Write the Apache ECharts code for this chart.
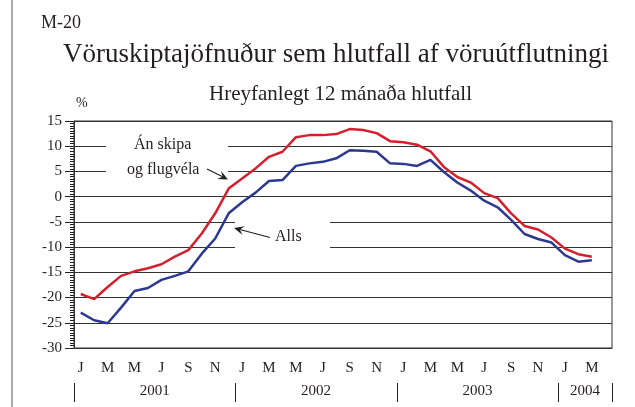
<!DOCTYPE html>
<html>
<head>
<meta charset="utf-8">
<script src="https://cdn.jsdelivr.net/npm/echarts@6/dist/echarts.min.js"></script>
<style>
  html, body { margin: 0; padding: 0; background: #fff; }
  #chart { width: 635px; height: 407px; }
</style>
</head>
<body>
<div id="chart"></div>
<script>
var monthLetters = ['J', 'F', 'M', 'A', 'M', 'J', 'J', 'A', 'S', 'O', 'N', 'D']
var years = ['2001', '2002', '2003', '2004']

// Án skipa og flugvéla (rauð)
var anSkipa = [-19.3, -20.3, -17.9, -15.7, -14.8, -14.2, -13.4, -11.9, -10.6, -7.3, -3.3, 1.6,
  3.6, 5.6, 7.9, 8.9, 11.8, 12.2, 12.2, 12.4, 13.4, 13.2, 12.6, 11.0,
  10.8, 10.3, 9.0, 5.9, 3.9, 2.8, 0.7, -0.3, -3.3, -5.8, -6.5, -8.1,
  -10.3, -11.4, -11.9]
// Alls (blá)
var alls = [-23.0, -24.5, -25.1, -22.0, -18.7, -18.1, -16.5, -15.7, -14.8, -11.3, -8.3, -3.3,
  -1.1, 0.8, 3.1, 3.3, 6.1, 6.6, 6.9, 7.6, 9.2, 9.1, 8.9, 6.6,
  6.5, 6.1, 7.3, 4.9, 2.8, 1.2, -0.8, -2.1, -4.6, -7.4, -8.4, -9.1,
  -11.6, -12.9, -12.6]

// jan 2001 - apr 2004
var categories = []
for (var y = 0; y < years.length; y++) {
  for (var m = 0; m < 12; m++) {
    if (categories.length < 40) categories.push(years[y] + '-' + (m + 1))
  }
}
var yearBounds = []
categories.forEach(function (c, i) {
  if (c.split('-')[1] === '1') yearBounds.push(i - 0.5)
})
yearBounds.push(categories.length - 0.5)
var yearMids = []
for (var k = 0; k < yearBounds.length - 1; k++) {
  yearMids.push((yearBounds[k] + yearBounds[k + 1]) / 2)
}

var font = 'Liberation Serif'
var ink = '#231f20'
var gridCol = '#333'

function arrow (tail, tip) {
  var dx = tip[0] - tail[0]
  var dy = tip[1] - tail[1]
  var l = Math.sqrt(dx * dx + dy * dy)
  dx /= l; dy /= l
  var len = 10, half = 4.5
  var bx = tip[0] - dx * len, by = tip[1] - dy * len
  var nx = tip[0] - dx * len * 0.6, ny = tip[1] - dy * len * 0.6
  return [
    { type: 'line', z: 5, shape: { x1: tail[0], y1: tail[1], x2: nx, y2: ny }, style: { stroke: ink, lineWidth: 1.2 } },
    { type: 'polygon', z: 5, shape: { points: [tip, [bx - dy * half, by + dx * half], [nx, ny], [bx + dy * half, by - dx * half]] }, style: { fill: ink } }
  ]
}

var chart = echarts.init(document.getElementById('chart'))
var graphics = [
  { type: 'line', shape: { x1: 12, y1: 0, x2: 12, y2: 407 }, style: { stroke: '#555', lineWidth: 1 } },
  { type: 'rect', z: 1, shape: { x: 106, y: 134, width: 122, height: 48 }, style: { fill: '#fff' } },
  { type: 'rect', z: 1, shape: { x: 235, y: 214, width: 95, height: 40 }, style: { fill: '#fff' } },
  { type: 'text', z: 5, left: 134, top: 137, style: { text: 'Án skipa', font: '16px "' + font + '"', fill: ink } },
  { type: 'text', z: 5, left: 127, top: 162, style: { text: 'og flugvéla', font: '16px "' + font + '"', fill: ink } },
  { type: 'text', z: 5, left: 275, top: 229, style: { text: 'Alls', font: '16px "' + font + '"', fill: ink } },
  { type: 'text', z: 5, left: 76, top: 96, style: { text: '%', font: '14px "' + font + '"', fill: ink } }
].concat(arrow([207, 169], [228, 179.5])).concat(arrow([270, 237.5], [234, 228]))

chart.setOption({
  animation: false,
  title: [
    { text: 'M-20', left: 36, top: 9, textStyle: { fontFamily: font, fontSize: 18, fontWeight: 'normal', color: ink } },
    { text: 'Vöruskiptajöfnuður sem hlutfall af vöruútflutningi', left: 58, top: 36, textStyle: { fontFamily: font, fontSize: 27, fontWeight: 'normal', color: ink } },
    { text: 'Hreyfanlegt 12 mánaða hlutfall', left: 204, top: 79, textStyle: { fontFamily: font, fontSize: 21, fontWeight: 'normal', color: ink } }
  ],
  grid: {
    left: 74,
    right: 23,
    top: 121,
    bottom: 59,
    show: true,
    borderColor: gridCol,
    borderWidth: 1
  },
  xAxis: [{
    type: 'category',
    data: categories,
    boundaryGap: true,
    axisLine: { onZero: false, lineStyle: { color: gridCol, width: 1 } },
    axisTick: { alignWithLabel: true, interval: 0, length: 6, lineStyle: { color: ink } },
    axisLabel: {
      interval: 1,
      margin: 13,
      fontFamily: font,
      fontSize: 15,
      color: ink,
      formatter: function (v, i) { return monthLetters[i % 12] }
    },
    splitLine: { show: false }
  }, {
    type: 'value',
    min: -0.5,
    max: categories.length - 0.5,
    position: 'bottom',
    offset: 35,
    axisLine: { show: false, onZero: false },
    axisTick: { show: true, customValues: yearBounds, length: 19, lineStyle: { color: ink } },
    axisLabel: {
      customValues: yearMids,
      margin: 1,
      fontFamily: font,
      fontSize: 15,
      color: ink,
      formatter: function (v) { return years[yearMids.indexOf(v)] }
    },
    splitLine: { show: false }
  }],
  yAxis: {
    type: 'value',
    min: -30,
    max: 15,
    interval: 5,
    axisLine: { show: true, onZero: false, lineStyle: { color: gridCol, width: 1 } },
    axisTick: { show: true, length: 9, lineStyle: { color: ink } },
    minorTick: { show: true, splitNumber: 10, length: 4, lineStyle: { color: ink, width: 1 } },
    axisLabel: {
      margin: 12,
      fontFamily: font,
      fontSize: 15,
      color: ink
    },
    splitLine: { show: true, lineStyle: { color: gridCol, width: 1 } }
  },
  series: [{
    name: 'Án skipa og flugvéla',
    type: 'line',
    data: anSkipa,
    symbol: 'none',
    z: 3,
    lineStyle: { color: '#d3202f', width: 2.5 }
  }, {
    name: 'Alls',
    type: 'line',
    data: alls,
    symbol: 'none',
    z: 3,
    lineStyle: { color: '#2b3990', width: 2.5 }
  }],
  graphic: graphics
})
</script>
</body>
</html>
